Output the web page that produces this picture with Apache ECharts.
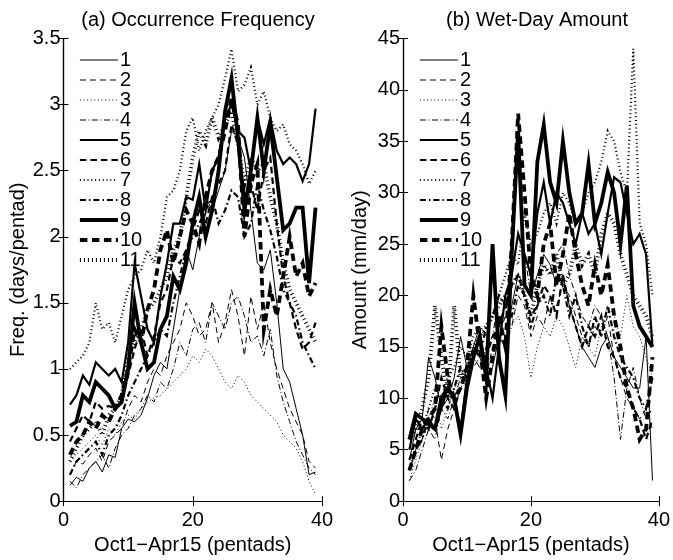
<!DOCTYPE html>
<html>
<head>
<meta charset="utf-8">
<script src="https://cdn.jsdelivr.net/npm/echarts@6/dist/echarts.min.js"></script>
<style>html,body{margin:0;padding:0;background:#fff}#c{width:673px;height:560px}</style>
</head>
<body>
<div id="c"></div>
<script>
// Pentad index (Oct1–Apr15), 39 pentads
const pentads = [1,2,3,4,5,6,7,8,9,10,11,12,13,14,15,16,17,18,19,20,21,22,23,24,25,26,27,28,29,30,31,32,33,34,35,36,37,38,39];
const seriesNames = ['1','2','3','4','5','6','7','8','9','10','11'];
const xTicks = [0, 20, 40];
const freqTicks = [0, 0.5, 1, 1.5, 2, 2.5, 3, 3.5];
const amtTicks = [0, 5, 10, 15, 20, 25, 30, 35, 40, 45];

// (a) Occurrence frequency (days/pentad)
const freq1  = [0.12,0.18,0.15,0.25,0.30,0.22,0.35,0.33,0.55,0.62,0.60,0.65,0.78,0.95,1.05,1.00,1.30,1.60,1.90,1.75,2.00,2.30,2.20,2.35,2.50,2.80,2.75,2.60,2.20,1.80,1.75,1.90,1.50,1.00,0.90,0.70,0.50,0.20,0.22];
const freq2  = [0.20,0.30,0.28,0.35,0.40,0.30,0.45,0.50,0.55,0.70,0.80,0.75,0.90,1.00,0.95,1.10,1.20,1.30,1.50,1.40,1.25,1.30,1.50,1.20,1.35,1.60,1.40,1.10,1.55,1.30,1.50,1.20,1.00,0.85,0.70,0.60,0.50,0.30,0.25];
const freq3  = [0.30,0.35,0.40,0.45,0.50,0.42,0.55,0.50,0.60,0.65,0.62,0.70,0.75,0.78,0.80,0.85,0.90,0.95,1.00,1.10,1.05,1.15,1.10,1.00,0.90,0.85,0.95,0.90,0.80,0.75,0.70,0.65,0.60,0.50,0.45,0.40,0.30,0.15,0.05];
const freq4  = [0.15,0.10,0.20,0.25,0.30,0.35,0.25,0.40,0.50,0.55,0.65,0.70,0.80,0.75,0.90,0.85,1.00,1.20,1.10,1.30,1.35,1.20,1.50,1.40,1.30,1.50,1.55,1.40,1.20,1.25,1.10,1.30,0.95,0.75,0.60,0.45,0.35,0.25,0.20];
const freq5  = [0.73,0.80,0.95,0.88,1.05,1.00,0.95,1.00,0.90,1.20,1.80,1.55,1.30,1.20,1.55,1.80,2.10,2.10,2.30,2.28,2.55,2.20,2.50,2.60,2.90,3.00,2.80,2.75,2.50,2.90,2.70,2.90,2.65,2.55,2.60,2.55,2.42,2.55,2.97];
const freq6  = [0.45,0.55,0.65,0.60,0.75,0.70,0.72,0.70,0.75,0.95,1.15,1.30,1.10,1.25,1.50,1.60,1.85,1.80,1.90,2.05,2.20,2.10,2.30,2.40,2.50,2.85,2.70,2.30,2.40,2.20,2.50,2.60,2.10,1.70,1.50,1.30,1.15,1.20,1.35];
const freq7  = [1.00,1.05,1.10,1.20,1.50,1.30,1.35,1.20,1.40,1.60,1.70,1.75,1.90,1.80,2.00,2.30,2.35,2.50,2.80,2.90,2.65,2.80,2.90,3.00,3.20,3.42,3.10,3.15,3.28,3.00,3.10,2.90,2.80,2.85,2.70,2.65,2.55,2.40,2.50];
const freq8  = [0.20,0.30,0.35,0.40,0.45,0.35,0.50,0.55,0.65,0.80,0.90,1.00,1.10,1.20,1.30,1.25,1.50,1.70,1.90,2.00,2.10,2.20,2.30,2.10,2.20,2.35,2.30,2.00,2.10,2.40,2.20,2.05,1.85,1.60,1.50,1.40,1.20,1.10,1.00];
const freq9  = [0.57,0.60,0.80,0.75,0.90,0.85,0.80,0.70,0.75,1.00,1.50,1.20,1.00,1.05,1.30,1.40,1.70,1.60,1.80,2.10,2.30,2.00,2.20,2.50,2.95,3.20,2.75,2.20,2.50,2.90,2.50,2.85,2.45,2.05,2.10,2.22,2.22,1.65,2.22];
const freq10 = [0.35,0.45,0.50,0.60,0.55,0.65,0.60,0.70,0.80,1.00,1.30,1.20,1.45,1.60,1.90,2.05,1.80,2.00,2.20,2.10,1.95,2.30,2.50,2.60,2.80,3.05,2.85,2.00,2.40,2.55,1.30,1.60,1.40,1.70,2.00,1.70,1.80,1.55,1.65];
const freq11 = [0.30,0.40,0.50,0.55,0.60,0.50,0.65,0.70,0.80,1.10,1.20,1.30,1.45,1.50,1.60,1.70,1.90,2.00,2.30,2.60,2.80,2.70,2.90,2.75,2.85,2.95,2.70,2.40,2.60,2.50,2.55,2.30,2.10,1.80,1.60,1.50,1.40,1.30,1.20];

// (b) Wet-day amount (mm/day)
const amt1  = [4,7,8,14,12,9,10,12,16,13,15,17,12,13,16,15,19,22,21,20,22,24,23,21,22,19,17,15,14,13,15,16,14,13,12,11,11,16,2];
const amt2  = [3,5,6,9,8,4,7,9,11,12,13,14,12,15,16,18,17,20,19,16,18,17,20,19,21,20,18,16,15,17,16,18,14,12,10,9,8,9,7];
const amt3  = [2,4,6,8,10,7,9,11,12,13,14,15,13,14,16,15,17,18,16,12,15,17,16,18,17,15,13,16,15,14,17,19,18,16,20,17,16,14,12];
const amt4  = [2,3,5,7,6,9,8,10,12,11,14,13,15,16,20,19,22,26,24,20,21,23,22,24,25,22,20,18,17,19,18,16,12,6,11,13,10,8,9];
const amt5  = [5,8,7,8,7,9,11,10,7,12,14,16,13,10,15,20,22,26,24,22,28,31,27,30,29,27,25,28,26,27,24,28,31.5,31,28,25,26,24,15];
const amt6  = [4,6,8,7,9,12,10,9,11,13,14,15,14,16,17,19,21,22,20,18,19,21,20,18,22,19,17,15,17,16,18,15,14,12,11,9,8,6,8];
const amt7  = [3,5,7,9,11,10,12,13,15,14,16,17,16,18,20,22,24,23,28,25,26,28,29,27,30,29,27,28,30,31,33,36,35,32,30,44,27,25,20];
const amt8  = [3,5,6,8,7,10,9,11,13,12,15,14,17,18,20,19,18,21,20,17,19,20,18,22,21,18,20,17,15,18,16,19,16,14,13,12,10,9,12];
const amt9  = [6,8.5,8,7.5,7,10,11,10,6.5,11,14,16,12,25,14,10.3,24,36,21,20,33,36.6,31,29,35,30,27,28,32.8,27,29,32,30,25,30.7,19,17,16,15];
const amt10 = [3,5,7,8,9,17,12,10,11,13,20,15,10,14,18,15,25,37.7,30,22,20,25,27,21,24,28,24,21,19,23,20,23,18,15,11,9,6,7,14];
const amt11 = [6,7,9,12,19,14,10,19,12,13,15,16,17,18,19,20,21,22,20,18,21,23,22,24,21,22,25,23,24,22,26,28,27,24,22,20,19,18,16];

const freqData = [freq1,freq2,freq3,freq4,freq5,freq6,freq7,freq8,freq9,freq10,freq11];
const amtData  = [amt1,amt2,amt3,amt4,amt5,amt6,amt7,amt8,amt9,amt10,amt11];

// line styles: thin / medium / thick with solid, dashed, dotted, dash-dot
const styles = [
  {w:1.0, t:'solid'}, {w:1.0, t:[6,4]}, {w:1.0, t:[1,2.6]}, {w:1.0, t:[6,2.5,1,2.5]},
  {w:2.2, t:'solid'}, {w:2.2, t:[6.5,4]}, {w:2.2, t:[1,2.8]}, {w:2.2, t:[6,3,1.5,3]},
  {w:3.8, t:'solid'}, {w:3.8, t:[7.5,4.5]}, {w:3.8, t:[1,3]}
];

const FONT = 'Liberation Sans, Arial, Helvetica, sans-serif';
const FS = 20;

function mkSeries(data, gi) {
  return data.map((arr, k) => ({
    name: seriesNames[k],
    type: 'line',
    xAxisIndex: gi*2, yAxisIndex: gi*2,
    symbol: 'none',
    animation: false,
    lineStyle: {color: '#000', width: styles[k].w, type: styles[k].t, cap: 'butt', join: 'miter'},
    itemStyle: {color: '#000'},
    z: 2 + (k % 4),
    data: pentads.map((p, i) => [p, arr[i]])
  }));
}

function xAxes(gi) {
  const base = {
    type: 'value', gridIndex: gi, min: xTicks[0], max: xTicks[xTicks.length-1], interval: xTicks[1]-xTicks[0],
    splitLine: {show: false},
    axisLine: {show: true, lineStyle: {color: '#000', width: 1.2}},
    axisTick: {show: true, inside: true, length: 5, lineStyle: {color: '#000', width: 1}}
  };
  return [
    Object.assign({}, base, {
      position: 'bottom',
      name: 'Oct1\u2212Apr15 (pentads)', nameLocation: 'middle', nameGap: 30,
      nameTextStyle: {fontFamily: FONT, fontSize: FS, color: '#000'},
      axisLabel: {fontFamily: FONT, fontSize: FS, color: '#000', margin: 9, showMinLabel: true, showMaxLabel: true}
    }),
    Object.assign({}, base, {position: 'top', axisLabel: {show: false}})
  ];
}

function yAxes(gi, ticks, name, gap) {
  const base = {
    type: 'value', gridIndex: gi, min: ticks[0], max: ticks[ticks.length-1], interval: ticks[1]-ticks[0],
    splitLine: {show: false},
    axisLine: {show: true, lineStyle: {color: '#000', width: 1.2}},
    axisTick: {show: true, inside: true, length: 5, lineStyle: {color: '#000', width: 1}}
  };
  return [
    Object.assign({}, base, {
      position: 'left',
      name: name, nameLocation: 'middle', nameGap: gap, nameRotate: 90,
      nameTextStyle: {fontFamily: FONT, fontSize: FS, color: '#000'},
      axisLabel: {fontFamily: FONT, fontSize: FS, color: '#000', margin: 3}
    }),
    Object.assign({}, base, {position: 'right', axisLabel: {show: false}})
  ];
}

const legendBase = {
  orient: 'vertical', itemWidth: 38, itemHeight: 14, itemGap: 0, padding: 0,
  data: seriesNames, selectedMode: false,
  lineStyle: {width: 'inherit'},
  textStyle: {fontFamily: FONT, fontSize: FS, color: '#000', lineHeight: 19.5, padding: [0,0,0,-3]},
  itemStyle: {opacity: 0}
};

const chart = echarts.init(document.getElementById('c'), null, {renderer: 'canvas'});
chart.setOption({
  backgroundColor: '#fff',
  animation: false,
  title: [
    {text: '(a) Occurrence Frequency', left: 193, top: 5, textAlign: 'center',
     textStyle: {fontFamily: FONT, fontSize: FS, fontWeight: 'normal', color: '#000'}},
    {text: '(b) Wet-Day Amount', left: 532, top: 5, textAlign: 'center',
     textStyle: {fontFamily: FONT, fontSize: FS, fontWeight: 'normal', color: '#000'}}
  ],
  legend: [
    Object.assign({}, legendBase, {left: 78, top: 50}),
    Object.assign({}, legendBase, {left: 418, top: 50})
  ],
  grid: [
    {left: 63.5, right: 351, top: 38.5, bottom: 50.5},
    {left: 403, right: 11, top: 38.5, bottom: 50.5}
  ],
  xAxis: [].concat(xAxes(0), xAxes(1)),
  yAxis: [].concat(yAxes(0, freqTicks, 'Freq. (days/pentad)', 35), yAxes(1, amtTicks, 'Amount (mm/day)', 33)),
  series: [].concat(mkSeries(freqData, 0), mkSeries(amtData, 1))
});
</script>
</body>
</html>
